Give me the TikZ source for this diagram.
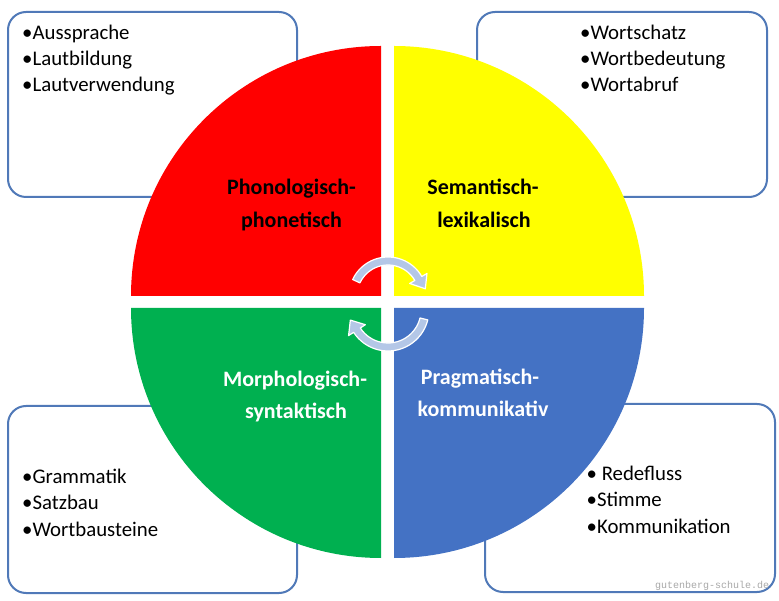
\documentclass[tikz,border=0pt]{standalone}
\usepackage{fontspec}
\setmainfont{Carlito}
\newfontfamily\wmfont{Liberation Mono}
\definecolor{boxline}{HTML}{5079B8}
\definecolor{qred}{HTML}{FF0000}
\definecolor{qyellow}{HTML}{FFFF00}
\definecolor{qgreen}{HTML}{00B050}
\definecolor{qblue}{HTML}{4472C4}
\definecolor{cyc}{HTML}{B4C7E7}
\definecolor{wm}{HTML}{A8A8A8}
\tikzset{
  infobox/.style={draw=boxline, line width=2pt, fill=white, rounded corners=18pt},
  item/.style={font=\fontsize{20.8}{24}\selectfont, anchor=base west, inner sep=0pt, text=black},
  lab/.style={font=\fontsize{22}{26}\selectfont\bfseries, anchor=base, inner sep=0pt},
  cycarrow/.style={fill=cyc, draw=white, line width=1.2pt, line join=round}
}
\begin{document}
\begin{tikzpicture}[x=1pt,y=1pt]
\useasboundingbox (0,0) rectangle (779,600);
\fill[white] (0,0) rectangle (779,600);
% boxes
\draw[infobox] (8,403) rectangle (297,588);
\draw[infobox] (477,403) rectangle (767,588);
\draw[infobox] (8,7) rectangle (297,194);
\draw[infobox] (485,8) rectangle (775,196);
% quadrants
\fill[qred] (381,304) -- ++(-250,0) arc[start angle=180,end angle=90,radius=250] -- cycle;
\fill[qyellow] (394,304) -- ++(0,250) arc[start angle=90,end angle=0,radius=250] -- cycle;
\fill[qgreen] (381,292) -- ++(0,-250) arc[start angle=270,end angle=180,radius=250] -- cycle;
\fill[qblue] (394,292) -- ++(250,0) arc[start angle=0,end angle=-90,radius=250] -- cycle;
% cycle arrows
\coordinate (ct) at (388,304);
\coordinate (cb) at (388,290);
\path[cycarrow] ([shift={(ct)}]155:39) arc[start angle=155,end angle=30,radius=39]
  -- ([shift={(ct)}]30:45) -- ([shift={(ct)}]11:38) -- ([shift={(ct)}]30:25)
  -- ([shift={(ct)}]30:31) arc[start angle=30,end angle=155,radius=31] -- cycle;
\path[cycarrow] ([shift={(cb)}]-14:41) arc[start angle=-14,end angle=-147,radius=41]
  -- ([shift={(cb)}]-147:47) -- ([shift={(cb)}]-165:39) -- ([shift={(cb)}]-147:27)
  -- ([shift={(cb)}]-147:33) arc[start angle=-147,end angle=-14,radius=33] -- cycle;
% quadrant labels
\node[lab] (p1) at (291.5,405) {Phonologisch-};
\node[lab] (p2) at (291.5,372) {phonetisch};
\node[lab] (s1) at (483,405) {Semantisch-};
\node[lab] (s2) at (484,372) {lexikalisch};
\node[lab, text=white] (m1) at (295,213) {Morphologisch-};
\node[lab, text=white] (m2) at (296,181) {syntaktisch};
\node[lab, text=white] (g1) at (480,215) {Pragmatisch-};
\node[lab, text=white] (g2) at (483,183) {kommunikativ};
% lists
\node[item] (a1) at (22,560) {•Aussprache};
\node[item] (a2) at (22,534) {•Lautbildung};
\node[item] (a3) at (22,508) {•Lautverwendung};
\node[item] (b1) at (580,560) {•Wortschatz};
\node[item] (b2) at (580,534) {•Wortbedeutung};
\node[item] (b3) at (580,508) {•Wortabruf};
\node[item] (c1) at (22,117) {•Grammatik};
\node[item] (c2) at (22,91) {•Satzbau};
\node[item] (c3) at (22,64) {•Wortbausteine};
\node[item] (d1) at (586.5,120) {• Redefluss};
\node[item] (d2) at (586.5,93) {•Stimme};
\node[item] (d3) at (586.5,67) {•Kommunikation};
% watermark
\node[anchor=base west, inner sep=0pt, font=\wmfont\fontsize{10}{12}\selectfont, text=wm] (wmk) at (655,12) {gutenberg-schule.de};
\end{tikzpicture}
\end{document}
